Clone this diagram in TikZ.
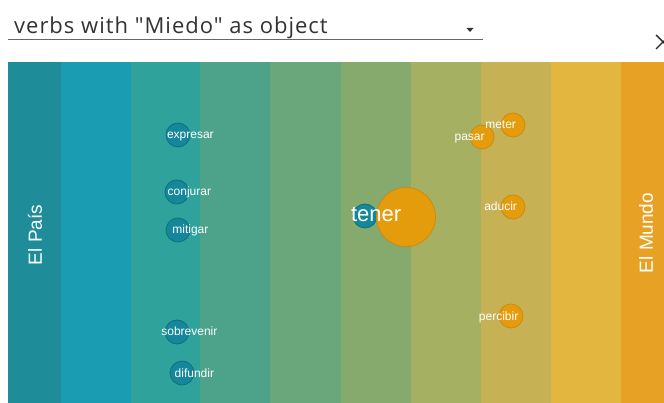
\documentclass[tikz,border=0pt]{standalone}
\usepackage{fontspec}
\setmainfont{Liberation Sans}
\newfontfamily\titlefont[LetterSpace=4.5]{Open Sans}
\definecolor{sA}{HTML}{1E8C99}
\definecolor{sB}{HTML}{1A9DB2}
\definecolor{sC}{HTML}{2FA39B}
\definecolor{sD}{HTML}{4DA28A}
\definecolor{sE}{HTML}{6AA87B}
\definecolor{sF}{HTML}{86A96E}
\definecolor{sG}{HTML}{A6B062}
\definecolor{sH}{HTML}{C6B155}
\definecolor{sI}{HTML}{E3B73F}
\definecolor{sJ}{HTML}{E7A225}
\definecolor{tealfill}{HTML}{14879A}
\definecolor{tealline}{HTML}{0F6F80}
\definecolor{orfill}{HTML}{E59C0C}
\definecolor{orline}{HTML}{CC8A10}
\definecolor{titlegray}{HTML}{333333}
\tikzset{
  tealdot/.style={circle, fill=tealfill, draw=tealline, line width=0.8pt, inner sep=0pt, minimum size=#1},
  ordot/.style={circle, fill=orfill, draw=orline, line width=0.8pt, inner sep=0pt, minimum size=#1},
  lbl/.style={text=white, font=\fontsize{12}{12}\selectfont, inner sep=0pt, anchor=base},
  biglbl/.style={text=white, font=\fontsize{22}{22}\selectfont, inner sep=0pt, anchor=base},
  sidelbl/.style={text=white, font=\fontsize{19}{19}\selectfont, inner sep=0pt, rotate=90},
}
\begin{document}
\begin{tikzpicture}[x=1pt,y=-1pt]
\useasboundingbox (0,0) rectangle (664,403);
\fill[white] (0,0) rectangle (664,403);
% strips
\fill[sA] (8,62) rectangle (61,403);
\fill[sB] (61,62) rectangle (131,403);
\fill[sC] (131,62) rectangle (200,403);
\fill[sD] (200,62) rectangle (270,403);
\fill[sE] (270,62) rectangle (341,403);
\fill[sF] (341,62) rectangle (411,403);
\fill[sG] (411,62) rectangle (481,403);
\fill[sH] (481,62) rectangle (551,403);
\fill[sI] (551,62) rectangle (621,403);
\fill[sJ] (621,62) rectangle (664,403);
% header
\node[anchor=base west, inner sep=0pt, text=titlegray, font=\titlefont\fontsize{22}{22}\selectfont] (title) at (14,34) {verbs with "Miedo" as object};
\coordinate (ulA) at (8,39.5);
\coordinate (ulB) at (483,39.5);
\draw[gray!80!black, line width=1pt] (ulA) -- (ulB);
\coordinate (arr) at (470,30);
\fill[titlegray] ([xshift=-3.5pt,yshift=2pt]arr) -- ([xshift=3.5pt,yshift=2pt]arr) -- ([yshift=-2pt]arr) -- cycle;
\coordinate (cls) at (663,42);
\draw[black!85, line width=1.4pt] ([xshift=-7pt,yshift=7pt]cls) -- ([xshift=7pt,yshift=-7pt]cls);
\draw[black!85, line width=1.4pt] ([xshift=-7pt,yshift=-7pt]cls) -- ([xshift=7pt,yshift=7pt]cls);
% side labels
\node[sidelbl] (pais) at (35,235) {El País};
\node[sidelbl] (mundo) at (646,233) {El Mundo};
% teal bubbles
\node[tealdot=24pt] (cExp) at (178,135) {};
\node[tealdot=24pt] (cCon) at (177,192) {};
\node[tealdot=24pt] (cMit) at (178,230) {};
\node[tealdot=24pt] (cSob) at (177,332) {};
\node[tealdot=24pt] (cDif) at (182,373) {};
\node[tealdot=24pt] (cTenT) at (365,216) {};
% orange bubbles
\node[ordot=59pt] (cTenO) at (406,217) {};
\node[ordot=24pt] (cPas) at (482,137) {};
\node[ordot=24pt] (cMet) at (513,125) {};
\node[ordot=24pt] (cAdu) at (513,207) {};
\node[ordot=24pt] (cPer) at (511,316) {};
% labels
\node[lbl] (lExp) at ([yshift=-4pt]cExp.east) {expresar};
\node[lbl] (lCon) at ([yshift=-4pt]cCon.east) {conjurar};
\node[lbl] (lMit) at ([yshift=-4pt]cMit.east) {mitigar};
\node[lbl] (lSob) at ([yshift=-4pt]cSob.east) {sobrevenir};
\node[lbl] (lDif) at ([yshift=-4pt]cDif.east) {difundir};
\node[biglbl] (lTen) at ([yshift=-5pt]cTenO.west) {tener};
\node[lbl] (lPas) at ([yshift=-4pt]cPas.west) {pasar};
\node[lbl] (lMet) at ([yshift=-4pt]cMet.west) {meter};
\node[lbl] (lAdu) at ([yshift=-4pt]cAdu.west) {aducir};
\node[lbl] (lPer) at ([yshift=-4pt]cPer.west) {percibir};
\end{tikzpicture}
\end{document}
